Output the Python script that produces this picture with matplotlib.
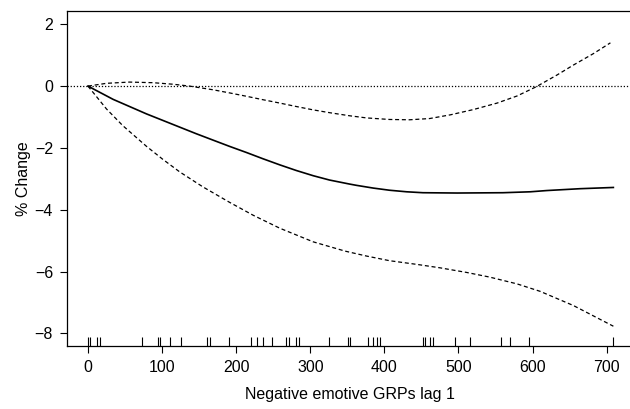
import matplotlib
matplotlib.use("Agg")
import matplotlib.pyplot as plt

plt.rcParams["font.family"] = ["Liberation Sans", "DejaVu Sans"]

# smooth term estimate and its pointwise bands
fit_x = [0, 34, 79, 101, 124, 146, 169, 191, 214, 236, 259, 281, 304, 326,
         353, 362, 385, 407, 430, 452, 498, 560, 597, 619, 664, 709]
fit = [0.0, -0.43, -0.90, -1.11, -1.33, -1.54, -1.75, -1.95, -2.15, -2.35,
       -2.55, -2.73, -2.90, -3.04, -3.17, -3.21, -3.30, -3.37, -3.42, -3.45,
       -3.46, -3.45, -3.42, -3.38, -3.32, -3.28]

upper_x = [0, 25, 56, 88, 115, 137, 169, 191, 214, 236, 259, 281, 304, 326,
           353, 376, 407, 434, 461, 489, 520, 552, 579, 605, 633, 655, 682, 705]
upper = [0.0, 0.09, 0.13, 0.11, 0.06, 0.0, -0.12, -0.22, -0.33, -0.44, -0.55,
         -0.66, -0.77, -0.86, -0.96, -1.03, -1.08, -1.09, -1.05, -0.93, -0.76,
         -0.55, -0.32, -0.02, 0.36, 0.68, 1.05, 1.40]

lower_x = [0, 25, 47, 79, 101, 124, 155, 191, 223, 259, 304, 347, 376, 407,
           444, 475, 511, 542, 579, 610, 655, 709]
lower = [0.0, -0.74, -1.28, -1.95, -2.37, -2.78, -3.26, -3.76, -4.18, -4.60,
         -5.04, -5.34, -5.50, -5.65, -5.77, -5.88, -6.03, -6.18, -6.40, -6.64,
         -7.10, -7.77]

rug = [0, 3, 12, 16, 73, 95, 97, 111, 126, 160, 165, 190, 220, 228, 236, 249,
       267, 271, 281, 285, 325, 351, 353, 378, 385, 390, 394, 452, 455, 462,
       466, 495, 515, 558, 570, 595, 708]

x_ticks = [0, 100, 200, 300, 400, 500, 600, 700]
y_ticks = [-8, -6, -4, -2, 0, 2]

fig = plt.figure(figsize=(6.3, 4.09), dpi=100)
ax = fig.add_axes([67 / 630, 1 - 346 / 409, 566.6 / 630, 335 / 409])

ax.axhline(0, color="black", lw=0.9, ls=(0, (1, 1.5)))
ax.plot(fit_x, fit, color="black", lw=1.2)
ax.plot(upper_x, upper, color="black", lw=0.9, dashes=(3.2, 2.2))
ax.plot(lower_x, lower, color="black", lw=0.9, dashes=(3.2, 2.2))
ax.vlines(rug, 0, 0.027, transform=ax.get_xaxis_transform(), color="black", lw=0.8)

ax.set_xlim(-28.3, 736.3)
ax.set_ylim(-8.41, 2.43)
ax.set_xticks(x_ticks)
ax.set_yticks(y_ticks)
ax.set_yticklabels([f"{v}".replace("-", "\u2212") for v in y_ticks])
ax.tick_params(labelsize=11.5, length=5, width=0.8, direction="out", pad=5)
ax.spines["right"].set_visible(False)
for s in ax.spines.values():
    s.set_linewidth(0.9)

ax.set_xlabel("Negative emotive GRPs lag 1", fontsize=11.5, labelpad=9)
ax.set_ylabel("% Change", fontsize=11.5, labelpad=3)

fig.savefig("out.png", dpi=100)
